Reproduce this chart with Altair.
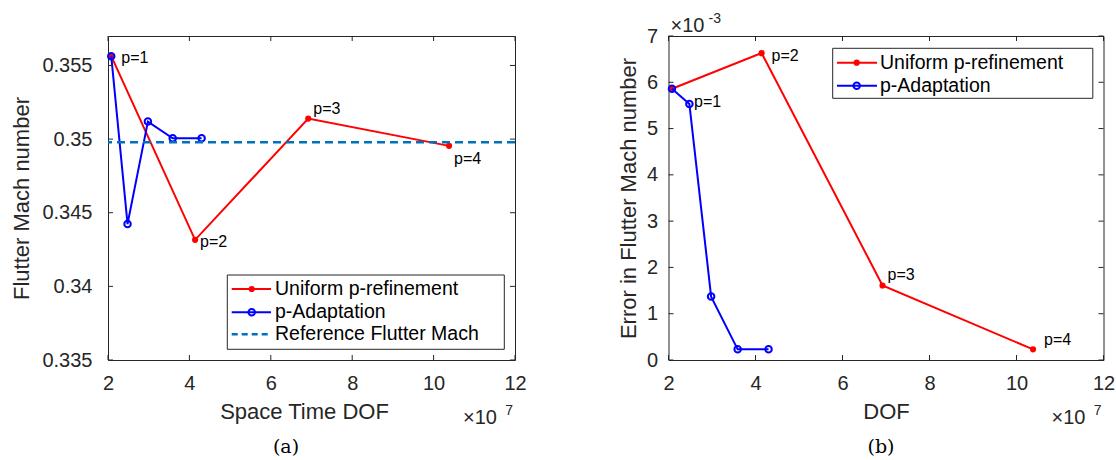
import altair as alt
import pandas as pd

# ---------------- data (DOF in units of 1e7, error in units of 1e-3) ----------------
uniform_dof = [2.08, 4.14, 6.92, 10.38]
uniform_mach = [0.35563, 0.34316, 0.35139, 0.34954]
uniform_err = [5.86, 6.63, 1.61, 0.23]
adapt_dof = [2.08, 2.48, 2.98, 3.59, 4.30]
adapt_mach = [0.35563, 0.34423, 0.35119, 0.35005, 0.35005]
adapt_err = [5.86, 5.53, 1.37, 0.23, 0.23]
reference_mach = [0.34978]
p_labels = ["p=1", "p=2", "p=3", "p=4"]
x_ticks = [2, 4, 6, 8, 10, 12]
mach_ticks = [0.335, 0.34, 0.345, 0.35, 0.355]
err_ticks = [0, 1, 2, 3, 4, 5, 6, 7]
legend_labels = ["Uniform p-refinement", "p-Adaptation", "Reference Flutter Mach"]

FONT = "Liberation Sans"
AX = "#262626"
RED = "#FF0000"
BLUE = "#0000FF"
REF = "#0072BD"
W1, W2, H = 407, 435, 324


def make_axes(W, x_title, x_title_x, y_title, y_title_x, y_dom, y_fmt, y_vals, y_pad):
    X = alt.X("x:Q", scale=alt.Scale(domain=[2, 12], nice=False, zero=False),
              axis=alt.Axis(title=x_title, values=x_ticks, format="d", grid=False,
                            domain=False, ticks=False, tickSize=0, labelFlush=False,
                            labelOverlap=False, labelPadding=29, labelBaseline="alphabetic",
                            labelFontSize=20, titleFontSize=22, titleX=x_title_x, titleY=58,
                            titleBaseline="alphabetic", titleAlign="center"))
    Y = alt.Y("y:Q", scale=alt.Scale(domain=y_dom, nice=False, zero=False),
              axis=alt.Axis(title=y_title, values=y_vals, format=y_fmt, grid=False,
                            domain=False, ticks=False, tickSize=0, labelFlush=False,
                            labelOverlap=False, labelPadding=y_pad, labelFontSize=20,
                            titleFontSize=22, titleAngle=270, titleX=y_title_x, titleY=H / 2,
                            titleBaseline="alphabetic", titleAlign="center"))
    return X, Y


def tick_layers(X, Y, W, y_vals):
    xt = alt.Chart(pd.DataFrame({"x": x_ticks}))
    yt = alt.Chart(pd.DataFrame({"y": y_vals}))
    return [
        xt.mark_rule(color=AX, strokeWidth=1).encode(x=X, y=alt.value(H), y2=alt.value(H - 5)),
        xt.mark_rule(color=AX, strokeWidth=1).encode(x=X, y=alt.value(0), y2=alt.value(5)),
        yt.mark_rule(color=AX, strokeWidth=1).encode(y=Y, x=alt.value(0), x2=alt.value(5)),
        yt.mark_rule(color=AX, strokeWidth=1).encode(y=Y, x=alt.value(W - 5), x2=alt.value(W)),
    ]


def series_layers(X, Y, xs, ys, color, filled):
    df = pd.DataFrame({"x": xs, "y": ys, "i": list(range(len(xs)))})
    base = alt.Chart(df)
    line = base.mark_line(color=color, strokeWidth=2).encode(x=X, y=Y, order="i:Q")
    if filled:
        pts = base.mark_circle(color=color, size=38, opacity=1).encode(x=X, y=Y)
    else:
        pts = base.mark_point(shape="circle", color=color, filled=False, size=42,
                              strokeWidth=2, opacity=1).encode(x=X, y=Y)
    return [line, pts]


def label_layers(X, Y, xs, ys, offsets):
    out = []
    for i, (dx, dy) in enumerate(offsets):
        df = pd.DataFrame({"x": [xs[i]], "y": [ys[i]], "t": [p_labels[i]]})
        out.append(alt.Chart(df).mark_text(align="left", baseline="middle", dx=dx, dy=dy,
                                           fontSize=16, font=FONT, color="black")
                   .encode(x=X, y=Y, text="t:N"))
    return out


def legend_layers(bx0, bx1, by0, by1, lx0, lx1, mx, tx, rows):
    out = [alt.Chart(pd.DataFrame({"k": [0]})).mark_rect(fill="white", stroke=AX, strokeWidth=1)
           .encode(x=alt.value(bx0), x2=alt.value(bx1), y=alt.value(by0), y2=alt.value(by1))]
    styles = [("red", RED), ("blue", BLUE), ("ref", REF)]
    for (kind, color), (label, ry) in zip(styles, rows):
        d = alt.Chart(pd.DataFrame({"t": [label]}))
        if kind == "ref":
            out.append(d.mark_rule(color=color, strokeWidth=2.5, strokeDash=[6, 4])
                       .encode(x=alt.value(lx0), x2=alt.value(lx1), y=alt.value(ry)))
        else:
            out.append(d.mark_rule(color=color, strokeWidth=2)
                       .encode(x=alt.value(lx0), x2=alt.value(lx1), y=alt.value(ry)))
            if kind == "red":
                out.append(d.mark_circle(color=color, size=38, opacity=1)
                           .encode(x=alt.value(mx), y=alt.value(ry)))
            else:
                out.append(d.mark_point(shape="circle", color=color, filled=False, size=42,
                                        strokeWidth=2, opacity=1)
                           .encode(x=alt.value(mx), y=alt.value(ry)))
        out.append(d.mark_text(align="left", baseline="middle", fontSize=19.5, font=FONT,
                               color="black").encode(x=alt.value(tx), y=alt.value(ry), text="t:N"))
    return out


def free_text(txt, x, y, size, align="left", font=FONT, color=AX):
    return alt.Chart(pd.DataFrame({"t": [txt]})).mark_text(
        align=align, baseline="alphabetic", fontSize=size, font=font, color=color
    ).encode(x=alt.value(x), y=alt.value(y), text="t:N")


# ---------------- panel (a) ----------------
Xa, Ya = make_axes(W1, "Space Time DOF", 196, "Flutter Mach number", -79.5,
                   [0.335, 0.3570], ".3~f", mach_ticks, 16)
layers_a = []
layers_a += series_layers(Xa, Ya, uniform_dof, uniform_mach, RED, True)
layers_a += series_layers(Xa, Ya, adapt_dof, adapt_mach, BLUE, False)
layers_a.append(alt.Chart(pd.DataFrame({"y": reference_mach}))
                .mark_rule(color=REF, strokeWidth=2.5, strokeDash=[8, 5]).encode(y=Ya))
layers_a += label_layers(Xa, Ya, uniform_dof, uniform_mach, [(10, 2), (5, 2), (5, -10), (5, 13)])
layers_a += tick_layers(Xa, Ya, W1, mach_ticks)
layers_a += legend_layers(119.3, 396.3, 239, 313.3, 123.7, 163, 143.7, 167,
                          [(legend_labels[0], 253), (legend_labels[1], 276.3), (legend_labels[2], 298.3)])
layers_a.append(free_text("×10", W1 - 18, 388, 20, align="right"))
layers_a.append(free_text("7", W1 - 2, 379, 14, align="right"))
layers_a.append(free_text("(a)", 178, 417, 19, align="center", font="DejaVu Serif", color="black"))
panel_a = alt.layer(*layers_a).properties(width=W1, height=H)

# ---------------- panel (b) ----------------
Xb, Yb = make_axes(W2, "DOF", W2 / 2, "Error in Flutter Mach number", -33.5,
                   [0, 7], "d", err_ticks, 11)
layers_b = []
layers_b += series_layers(Xb, Yb, uniform_dof, uniform_err, RED, True)
layers_b += series_layers(Xb, Yb, adapt_dof, adapt_err, BLUE, False)
layers_b += label_layers(Xb, Yb, uniform_dof, uniform_err, [(22, 13), (10, 3), (5, -10), (11, -9)])
layers_b += tick_layers(Xb, Yb, W2, err_ticks)
layers_b += legend_layers(164.2, 424.3, 12.3, 62.3, 168.5, 208.5, 188.2, 211.5,
                          [(legend_labels[0], 26.7), (legend_labels[1], 49.7)])
layers_b.append(free_text("×10", W2 - 18, 388, 20, align="right"))
layers_b.append(free_text("7", W2 - 2, 379, 14, align="right"))
layers_b.append(free_text("×10", 2, -4, 20, align="left"))
layers_b.append(free_text("-3", 40, -13, 14, align="left"))
layers_b.append(free_text("(b)", 212.5, 417, 19, align="center", font="DejaVu Serif", color="black"))
panel_b = alt.layer(*layers_b).properties(width=W2, height=H)

chart = alt.hconcat(panel_a, panel_b, spacing=153.5, bounds="flush").properties(
    autosize=alt.AutoSizeParams(type="none"),
    padding={"left": 108, "top": 36, "right": 1116 - 108, "bottom": 460 - 36},
).configure_view(stroke=AX, strokeWidth=1).configure_axis(
    labelFont=FONT, titleFont=FONT, labelColor=AX, titleColor=AX, titleFontWeight="normal"
)

chart.save("out.html", embed_options={"renderer": "svg", "actions": False})
